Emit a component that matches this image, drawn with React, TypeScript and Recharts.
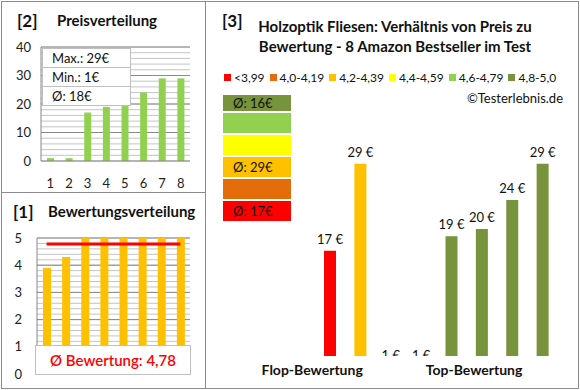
import React from 'react';
import {
  Bar,
  BarChart,
  CartesianGrid,
  Cell,
  ComposedChart,
  LabelList,
  Line,
  XAxis,
  YAxis
} from 'recharts';

const FONT = 'Lato, "Open Sans", sans-serif';

// [2] Preisverteilung (sorted by price)
const priceRanks = ['1', '2', '3', '4', '5', '6', '7', '8'];
const pricesSorted = [1, 1, 17, 19, 20, 24, 29, 29];

// [1] Bewertungsverteilung
const ratingsSorted = [3.9, 4.3, 5, 5, 5, 5, 5, 5];
const ratingAverage = 4.78;

// [3] price per product, ordered by rating
const productPrices = [17, 29, 1, 1, 19, 20, 24, 29];
const productRatings = [3.9, 4.3, 5, 5, 5, 5, 5, 5];

const bandLabels = ['<3,99', '4,0-4,19', '4,2-4,39', '4,4-4,59', '4,6-4,79', '4,8-5,0'];
const bandMins = [0, 4.0, 4.2, 4.4, 4.6, 4.8];
const bandColors = ['#ff0000', '#e46c0a', '#ffc000', '#ffff00', '#92d050', '#77933c'];

// group captions under the bars: attached to a category, nudged sideways
const groupLabels = ['Flop-Bewertung', 'Top-Bewertung'];
const groupTickIndex = [0, 5];
const groupTickShift = [-18, -8];

const bandOf = (r: number) => {
  let b = 0;
  bandMins.forEach((m, i) => {
    if (r >= m) b = i;
  });
  return b;
};

const d2 = priceRanks.map((rank, i) => ({ rank, price: pricesSorted[i] }));
const d1 = priceRanks.map((rank, i) => ({
  rank,
  rating: ratingsSorted[i],
  avg: ratingAverage
}));
const d3 = productPrices.map((price, i) => ({
  name: String(i + 1),
  price,
  band: bandOf(productRatings[i])
}));

const bandAverages = bandLabels.map((_, b) => {
  const ps = d3.filter((d) => d.band === b).map((d) => d.price);
  if (!ps.length) return null;
  return Math.round(ps.reduce((a, c) => a + c, 0) / ps.length);
});

const maxPrice = Math.max(...pricesSorted);
const minPrice = Math.min(...pricesSorted);
const avgPrice = Math.round(pricesSorted.reduce((a, c) => a + c, 0) / pricesSorted.length);

const gridTicks2 = Array.from({ length: 21 }, (_, i) => i * 2);
const majorTicks2 = [10, 20, 30, 40];
const gridTicks1 = Array.from({ length: 26 }, (_, i) => i / 5);
const majorTicks1 = [1, 2, 3, 4, 5];

const abs = (s: React.CSSProperties): React.CSSProperties => ({ position: 'absolute', ...s });

// label above each bar, clipped at the bar's base like the original
const PriceLabel = (props: any) => {
  const { x, y, width, height, value, index } = props;
  const base = y + height;
  const id = `lblclip-${index}`;
  return (
    <g>
      <defs>
        <clipPath id={id}>
          <rect x={x - 20} y={base - 1000} width={width + 40} height={1000} />
        </clipPath>
      </defs>
      <text
        x={x + width / 2}
        y={y - 7}
        textAnchor="middle"
        fontSize={13}
        fontFamily={FONT}
        fill="#111"
        clipPath={`url(#${id})`}
      >
        {value} €
      </text>
    </g>
  );
};

const GroupTick = (props: any) => {
  const idx = props.index ?? props.payload?.index;
  const g = groupTickIndex.indexOf(idx);
  if (g < 0) return null;
  return (
    <text
      x={props.x + groupTickShift[g]}
      y={props.y}
      dy="0.71em"
      textAnchor="middle"
      fontSize={14}
      fontWeight={700}
      fontFamily={FONT}
      fill="#111"
    >
      {groupLabels[g]}
    </text>
  );
};

export default function App() {
  return (
    <div
      style={{
        position: 'relative',
        width: 580,
        height: 390,
        background: '#fff',
        fontFamily: FONT,
        color: '#111',
        overflow: 'hidden'
      }}
    >
      <style>{'body{margin:0}'}</style>
      {/* frames */}
      <div style={abs({ left: 1, top: 1, width: 576, height: 386, border: '1px solid #8c8c8c' })} />
      <div style={abs({ left: 205, top: 1, width: 1, height: 387, background: '#8c8c8c' })} />
      <div style={abs({ left: 1, top: 192, width: 205, height: 1, background: '#8c8c8c' })} />

      {/* [2] Preisverteilung */}
      <div style={abs({ left: 17, top: 10, fontSize: 17, fontWeight: 700 })}>[2]</div>
      <div style={abs({ left: 57, top: 11, fontSize: 15, fontWeight: 700 })}>Preisverteilung</div>
      <div style={abs({ left: 0, top: 0 })}>
        <BarChart width={200} height={192} data={d2} margin={{ top: 47, right: 10, left: 0, bottom: 6 }}>
          <CartesianGrid vertical={false} stroke="#c4c4c4" />
          <CartesianGrid vertical={false} horizontalValues={majorTicks2} stroke="#8a8a8a" />
          <XAxis
            dataKey="rank"
            interval={0}
            axisLine={{ stroke: '#868686' }}
            tickLine={false}
            height={25}
            tickMargin={12}
            tick={{ fontSize: 13, fill: '#222', fontFamily: FONT }}
          />
          <YAxis
            domain={[0, 40]}
            ticks={gridTicks2}
            interval={0}
            width={41}
            axisLine={{ stroke: '#868686' }}
            tickLine={false}
            tickMargin={4}
            tickFormatter={(v: number) => (v % 10 === 0 ? String(v) : '')}
            tick={{ fontSize: 13, fill: '#222', fontFamily: FONT }}
          />
          <Bar dataKey="price" fill="#92d050" barSize={7} isAnimationActive={false} />
        </BarChart>
      </div>
      <div
        style={abs({
          left: 42,
          top: 48,
          width: 87,
          background: '#fff',
          border: '1px solid #bfbfbf',
          fontSize: 13
        })}
      >
        <div style={{ height: 18, lineHeight: '18px', paddingLeft: 9, borderBottom: '1px solid #bfbfbf' }}>
          Max.: {maxPrice}€
        </div>
        <div style={{ height: 18, lineHeight: '18px', paddingLeft: 9, borderBottom: '1px solid #bfbfbf' }}>
          Min.: {minPrice}€
        </div>
        <div style={{ height: 18, lineHeight: '18px', paddingLeft: 9 }}>Ø: {avgPrice}€</div>
      </div>

      {/* [1] Bewertungsverteilung */}
      <div style={abs({ left: 13, top: 201, fontSize: 17, fontWeight: 700 })}>[1]</div>
      <div style={abs({ left: 48, top: 202, fontSize: 15, fontWeight: 700 })}>Bewertungsverteilung</div>
      <div style={abs({ left: 0, top: 192 })}>
        <ComposedChart width={200} height={196} data={d1} margin={{ top: 46, right: 10, left: 0, bottom: 14 }}>
          <CartesianGrid vertical={false} stroke="#c4c4c4" />
          <CartesianGrid vertical={false} horizontalValues={majorTicks1} stroke="#8a8a8a" />
          <XAxis dataKey="rank" hide />
          <YAxis
            domain={[0, 5]}
            ticks={gridTicks1}
            interval={0}
            width={37}
            axisLine={{ stroke: '#868686' }}
            tickLine={false}
            tickMargin={9}
            tickFormatter={(v: number) => (Number.isInteger(v) ? String(v) : '')}
            tick={{ fontSize: 13, fill: '#222', fontFamily: FONT }}
          />
          <Bar dataKey="rating" fill="#ffc000" barSize={8} isAnimationActive={false} />
          <Line
            dataKey="avg"
            stroke="#ff0000"
            strokeWidth={3}
            dot={false}
            isAnimationActive={false}
          />
        </ComposedChart>
      </div>
      <div
        style={abs({
          left: 35,
          top: 345,
          width: 154,
          height: 28,
          background: '#fff',
          border: '1px solid #bfbfbf',
          color: '#ff0000',
          fontSize: 15,
          fontWeight: 600,
          lineHeight: '28px',
          textAlign: 'center'
        })}
      >
        Ø Bewertung: {ratingAverage.toFixed(2).replace('.', ',')}
      </div>

      {/* [3] Preis zu Bewertung */}
      <div style={abs({ left: 222, top: 10, fontSize: 17, fontWeight: 700 })}>[3]</div>
      <div
        style={abs({
          left: 240,
          top: 16,
          width: 310,
          textAlign: 'center',
          fontSize: 15,
          fontWeight: 700,
          lineHeight: '20px'
        })}
      >
        Holzoptik Fliesen: Verhältnis von Preis zu
        <br />
        Bewertung - 8 Amazon Bestseller im Test
      </div>
      <div style={abs({ left: 224, top: 70, display: 'flex', gap: 5, fontSize: 12, whiteSpace: 'nowrap' })}>
        {bandLabels.map((l, i) => (
          <div key={l} style={{ display: 'flex', alignItems: 'center' }}>
            <span style={{ width: 7, height: 7, background: bandColors[i], marginRight: 3 }} />
            {l}
          </div>
        ))}
      </div>
      <div style={abs({ right: 17, top: 90, fontSize: 13 })}>©Testerlebnis.de</div>
      <div style={abs({ left: 223, top: 95, width: 68 })}>
        {bandColors
          .map((c, i) => ({ c, avg: bandAverages[i] }))
          .reverse()
          .map((b, i) => (
            <div
              key={b.c}
              style={{
                height: i === 0 ? 16 : 20,
                marginBottom: 2,
                background: b.c,
                fontSize: 13,
                lineHeight: i === 0 ? '16px' : '20px',
                paddingLeft: 10
              }}
            >
              {b.avg !== null ? `Ø: ${b.avg}€` : ''}
            </div>
          ))}
      </div>
      <div style={abs({ left: 205, top: 100 })}>
        <BarChart width={373} height={288} data={d3} margin={{ top: 42, right: 20, left: 110, bottom: 2 }}>
          <XAxis
            dataKey="name"
            interval={0}
            height={30}
            axisLine={false}
            tickLine={false}
            tickSize={0}
            tickMargin={9}
            tick={GroupTick}
          />
          <YAxis hide domain={[2.45, 32]} allowDataOverflow />
          <Bar dataKey="price" barSize={12} isAnimationActive={false}>
            {d3.map((d) => (
              <Cell key={d.name} fill={bandColors[d.band]} />
            ))}
            <LabelList dataKey="price" content={PriceLabel} />
          </Bar>
        </BarChart>
      </div>
    </div>
  );
}
